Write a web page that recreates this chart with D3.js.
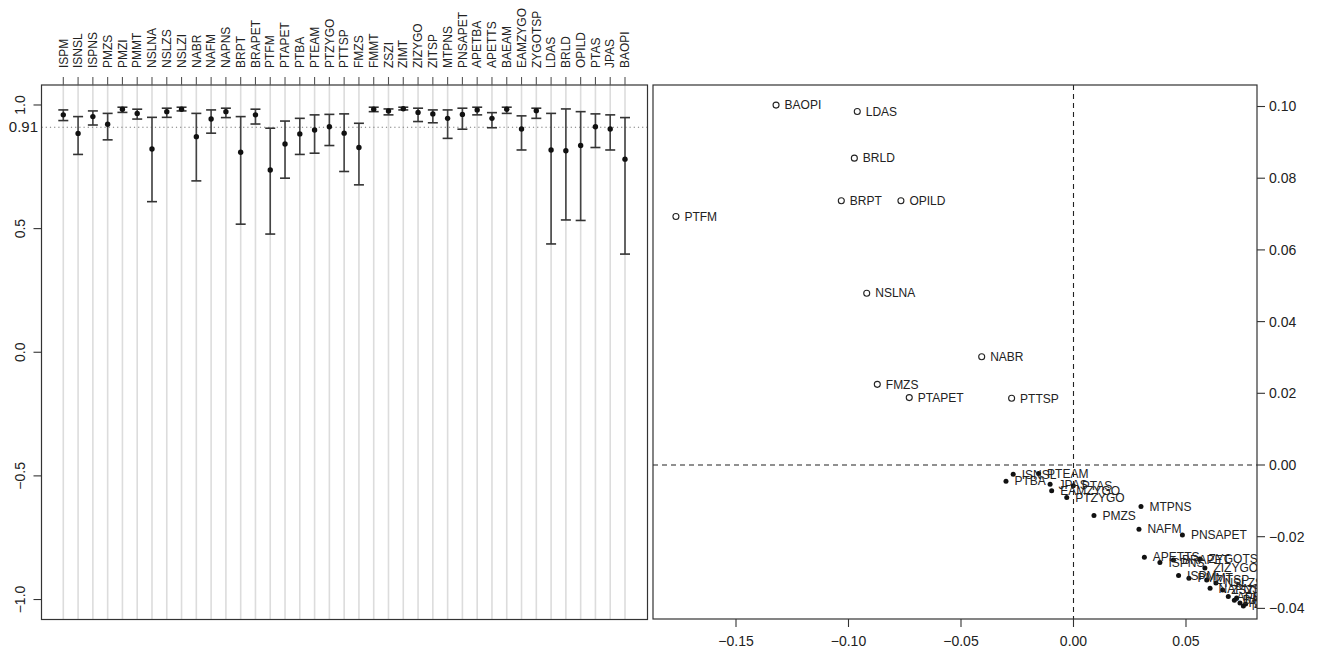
<!DOCTYPE html>
<html>
<head>
<meta charset="utf-8">
<script src="https://cdn.jsdelivr.net/npm/d3@7"></script>
<style>
  body { margin: 0; background: #fff; }
  svg { display: block; }
  text { font-family: "Liberation Sans", Arial, Helvetica, sans-serif; fill: #222; }
</style>
</head>
<body>
<svg id="chart" width="1320" height="655"></svg>
<script>
// Pairwise comparisons: estimate with interval (left) and 2-D ordination (right)
const categories = ["ISPM","ISNSL","ISPNS","PMZS","PMZI","PMMT","NSLNA","NSLZS","NSLZI","NABR",
  "NAFM","NAPNS","BRPT","BRAPET","PTFM","PTAPET","PTBA","PTEAM","PTZYGO","PTTSP",
  "FMZS","FMMT","ZSZI","ZIMT","ZIZYGO","ZITSP","MTPNS","PNSAPET","APETBA","APETTS",
  "BAEAM","EAMZYGO","ZYGOTSP","LDAS","BRLD","OPILD","PTAS","JPAS","BAOPI"];

const estimate = [0.960,0.885,0.953,0.922,0.983,0.966,0.822,0.973,0.983,0.872,
  0.943,0.973,0.809,0.960,0.737,0.842,0.883,0.899,0.912,0.886,
  0.828,0.983,0.976,0.985,0.970,0.964,0.946,0.962,0.980,0.946,
  0.983,0.903,0.977,0.818,0.815,0.836,0.912,0.903,0.781];

const lower = [0.937,0.800,0.919,0.859,0.970,0.943,0.609,0.950,0.976,0.693,
  0.886,0.949,0.518,0.923,0.478,0.704,0.800,0.805,0.836,0.731,
  0.677,0.973,0.960,0.980,0.933,0.928,0.865,0.902,0.960,0.908,
  0.966,0.818,0.946,0.438,0.535,0.533,0.828,0.818,0.397];

const upper = [0.980,0.953,0.976,0.966,0.991,0.983,0.950,0.987,0.991,0.966,
  0.980,0.987,0.953,0.983,0.906,0.935,0.946,0.960,0.962,0.964,
  0.926,0.991,0.984,0.991,0.987,0.980,0.980,0.987,0.991,0.969,
  0.991,0.956,0.987,0.966,0.984,0.973,0.964,0.960,0.949];

const threshold = 0.91;

// Ordination coordinates, same order as categories
const coordX = [0.0467,-0.0268,0.0384,0.0091,0.0740,0.0513,-0.0919,0.0633,0.0755,-0.0408,
  0.0291,0.0607,-0.1032,0.0444,-0.1767,-0.0730,-0.0300,-0.0155,-0.0030,-0.0275,
  -0.0872,0.0725,0.0663,0.0765,0.0584,0.0592,0.0300,0.0484,0.0688,0.0315,
  0.0715,-0.0097,0.0562,-0.0961,-0.0974,-0.0767,-0.0001,-0.0104,-0.1322];

const coordY = [-0.0308,-0.0026,-0.0272,-0.0141,-0.0385,-0.0316,0.0479,-0.0329,-0.0393,0.0302,
  -0.0179,-0.0344,0.0737,-0.0265,0.0693,0.0188,-0.0045,-0.0024,-0.0091,0.0186,
  0.0225,-0.0371,-0.0349,-0.0388,-0.0287,-0.0321,-0.0116,-0.0195,-0.0367,-0.0257,
  -0.0377,-0.0072,-0.0262,0.0986,0.0856,0.0737,-0.0058,-0.0054,0.1004];

const openPoints = ["PTFM","BAOPI","LDAS","BRLD","BRPT","OPILD","NSLNA","NABR","FMZS","PTAPET","PTTSP"];

const leftTicks = [1.0, 0.5, 0.0, -0.5, -1.0];
const xTicks = [-0.15, -0.10, -0.05, 0.00, 0.05];
const yTicks = [0.10, 0.08, 0.06, 0.04, 0.02, 0.00, -0.02, -0.04];

const svg = d3.select("#chart");
const FS = 12;      // names and point labels
const AFS = 14;     // axis numbers

// ---------------- Left panel ----------------
const L = { x0: 41.5, x1: 647.5, y0: 85, y1: 619.5 };
const xL = d3.scaleLinear().domain([1, 39]).range([63.3, 625]);
const yL = d3.scaleLinear().domain([-1.0808, 1.0808]).range([L.y1, L.y0]);

const left = svg.append("g");

// light guide lines per comparison
left.selectAll("line.guide").data(categories).join("line")
  .attr("x1", (d, i) => xL(i + 1)).attr("x2", (d, i) => xL(i + 1))
  .attr("y1", L.y0).attr("y2", L.y1)
  .attr("stroke", "#dcdcdc").attr("stroke-width", 1.6);

// reference line
left.append("line")
  .attr("x1", L.x0).attr("x2", L.x1)
  .attr("y1", yL(threshold)).attr("y2", yL(threshold))
  .attr("stroke", "#777").attr("stroke-width", 1.2)
  .attr("stroke-dasharray", "1.2,3");

// intervals
const bars = left.selectAll("g.bar").data(categories).join("g");
bars.append("line")
  .attr("x1", (d, i) => xL(i + 1)).attr("x2", (d, i) => xL(i + 1))
  .attr("y1", (d, i) => yL(lower[i])).attr("y2", (d, i) => yL(upper[i]))
  .attr("stroke", "#444").attr("stroke-width", 1.6);
bars.append("line")
  .attr("x1", (d, i) => xL(i + 1) - 5).attr("x2", (d, i) => xL(i + 1) + 5)
  .attr("y1", (d, i) => yL(upper[i])).attr("y2", (d, i) => yL(upper[i]))
  .attr("stroke", "#333").attr("stroke-width", 1.6);
bars.append("line")
  .attr("x1", (d, i) => xL(i + 1) - 5).attr("x2", (d, i) => xL(i + 1) + 5)
  .attr("y1", (d, i) => yL(lower[i])).attr("y2", (d, i) => yL(lower[i]))
  .attr("stroke", "#333").attr("stroke-width", 1.6);
bars.append("circle")
  .attr("cx", (d, i) => xL(i + 1)).attr("cy", (d, i) => yL(estimate[i]))
  .attr("r", 2.7).attr("fill", "#111");

// frame
left.append("rect")
  .attr("x", L.x0).attr("y", L.y0)
  .attr("width", L.x1 - L.x0).attr("height", L.y1 - L.y0)
  .attr("fill", "none").attr("stroke", "#333").attr("stroke-width", 1.2);

// left axis
const axL = left.append("g");
axL.selectAll("line").data(leftTicks).join("line")
  .attr("x1", L.x0 - 8).attr("x2", L.x0)
  .attr("y1", d => yL(d)).attr("y2", d => yL(d))
  .attr("stroke", "#333").attr("stroke-width", 1.1);
axL.selectAll("text").data(leftTicks).join("text")
  .attr("transform", d => `translate(25,${yL(d)}) rotate(-90)`)
  .attr("text-anchor", "middle")
  .attr("font-size", AFS)
  .text(d => d3.format(".1f")(d));
left.append("text")
  .attr("x", 38).attr("y", yL(threshold)).attr("dy", "0.35em")
  .attr("text-anchor", "end").attr("font-size", 15)
  .text(d3.format(".2f")(threshold));

// top axis with comparison names
const axT = left.append("g");
axT.selectAll("line").data(categories).join("line")
  .attr("x1", (d, i) => xL(i + 1)).attr("x2", (d, i) => xL(i + 1))
  .attr("y1", L.y0 - 8).attr("y2", L.y0)
  .attr("stroke", "#555").attr("stroke-width", 1.1);
axT.selectAll("text").data(categories).join("text")
  .attr("transform", (d, i) => `translate(${xL(i + 1)},68) rotate(-90)`)
  .attr("dy", "0.35em")
  .attr("text-anchor", "start")
  .attr("font-size", FS)
  .text(d => d);

// ---------------- Right panel ----------------
const R = { x0: 653, x1: 1257, y0: 85, y1: 619 };
const xR = d3.scaleLinear().domain([-0.18689, 0.08156]).range([R.x0, R.x1]);
const yR = d3.scaleLinear().domain([-0.04296, 0.10600]).range([R.y1, R.y0]);

const right = svg.append("g");
svg.append("defs").append("clipPath").attr("id", "plotClip")
  .append("rect").attr("x", R.x0).attr("y", R.y0)
  .attr("width", R.x1 - R.x0).attr("height", R.y1 - R.y0);

const inner = right.append("g").attr("clip-path", "url(#plotClip)");

// zero reference lines
inner.append("line")
  .attr("x1", xR(0)).attr("x2", xR(0)).attr("y1", R.y0).attr("y2", R.y1)
  .attr("stroke", "#222").attr("stroke-width", 1.1).attr("stroke-dasharray", "5,4");
inner.append("line")
  .attr("x1", R.x0).attr("x2", R.x1).attr("y1", yR(0)).attr("y2", yR(0))
  .attr("stroke", "#222").attr("stroke-width", 1.1).attr("stroke-dasharray", "5,4");

const pts = categories.map((name, i) => ({ name, x: coordX[i], y: coordY[i], open: openPoints.includes(name) }));

inner.selectAll("circle.pt").data(pts).join("circle")
  .attr("cx", d => xR(d.x)).attr("cy", d => yR(d.y))
  .attr("r", d => d.open ? 3 : 2.5)
  .attr("fill", d => d.open ? "none" : "#111")
  .attr("stroke", d => d.open ? "#222" : "none")
  .attr("stroke-width", 1.1);

inner.selectAll("text.lab").data(pts).join("text")
  .attr("x", d => xR(d.x) + 8.5).attr("y", d => yR(d.y))
  .attr("dy", "0.35em").attr("font-size", FS)
  .text(d => d.name);

right.append("rect")
  .attr("x", R.x0).attr("y", R.y0)
  .attr("width", R.x1 - R.x0).attr("height", R.y1 - R.y0)
  .attr("fill", "none").attr("stroke", "#333").attr("stroke-width", 1.2);

// bottom axis
const axB = right.append("g");
axB.selectAll("line").data(xTicks).join("line")
  .attr("x1", d => xR(d)).attr("x2", d => xR(d))
  .attr("y1", R.y1).attr("y2", R.y1 + 8)
  .attr("stroke", "#333").attr("stroke-width", 1.1);
axB.selectAll("text").data(xTicks).join("text")
  .attr("x", d => xR(d)).attr("y", 646)
  .attr("text-anchor", "middle").attr("font-size", AFS)
  .text(d => d3.format(".2f")(d));

// right axis
const axR = right.append("g");
axR.selectAll("line").data(yTicks).join("line")
  .attr("x1", R.x1).attr("x2", R.x1 + 8)
  .attr("y1", d => yR(d)).attr("y2", d => yR(d))
  .attr("stroke", "#333").attr("stroke-width", 1.1);
axR.selectAll("text").data(yTicks).join("text")
  .attr("x", R.x1 + 12).attr("y", d => yR(d)).attr("dy", "0.35em")
  .attr("text-anchor", "start").attr("font-size", AFS)
  .text(d => d3.format(".2f")(d));
</script>
</body>
</html>
